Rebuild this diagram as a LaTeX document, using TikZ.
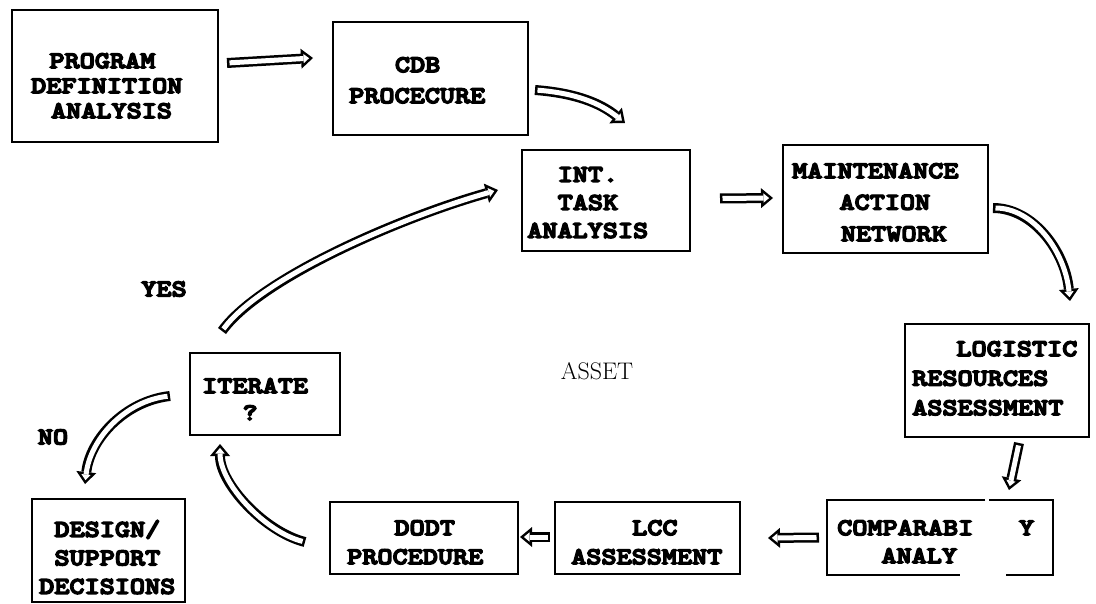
\documentclass[tikz,border=0pt]{standalone}
\usepackage{fontspec}
\usetikzlibrary{arrows.meta}
\newfontfamily\tw{lmmonolt10-bold.otf}[FakeStretch=1.2,FakeBold=6]
\newlength\cw
\setlength\cw{15.25pt}
\newcommand\ind[1]{\hspace*{#1\cw}}
\tikzset{
  box/.style={draw, line width=2.9pt, inner sep=0pt, outer sep=0pt},
  boxline/.style={line width=2.9pt},
  txt/.style={inner sep=0pt, anchor=north west, align=left, font=\tw\fontsize{24}{#1}\selectfont},
  txt/.default=29,
  lbl/.style={inner sep=0pt, font=\tw\fontsize{24}{28}\selectfont},
  hout/.style={draw=black, line width=10pt, -{Triangle[length=12pt,width=20pt,line width=0pt]}},
  hin/.style={draw=white, line width=5pt, shorten >=3.9pt, shorten <=2.5pt, -{Triangle[length=5.6pt,width=9.3pt,line width=0pt,color=white]}}
}
\newcommand\harrow[1]{\draw[hout] #1;\draw[hin] #1;}
\begin{document}
\begin{tikzpicture}[x=1pt,y=-1pt]
\useasboundingbox (0,0) rectangle (1096,604);
% boxes
\node[box, minimum width=206pt, minimum height=132pt] (pda) at (115,76) {};
\node[box, minimum width=195pt, minimum height=113pt] (cdb) at (430.5,78.5) {};
\node[box, minimum width=168pt, minimum height=101pt] (int) at (606,200.5) {};
\node[box, minimum width=205pt, minimum height=108pt] (man) at (885.5,199) {};
\node[box, minimum width=184pt, minimum height=113pt] (lra) at (997,380.5) {};
\node[inner sep=0pt, outer sep=0pt, minimum width=226pt, minimum height=75pt] (comp) at (940,537.5) {};
\draw[boxline] ([xshift=158pt]comp.north west) -- (comp.north west) -- (comp.south west) -- ([xshift=133pt]comp.south west);
\draw[boxline] ([xshift=179pt]comp.south west) -- (comp.south east) -- (comp.north east) -- ([xshift=162pt]comp.north west);
\node[box, minimum width=185pt, minimum height=72pt] (lcc) at (647.5,538) {};
\node[box, minimum width=188pt, minimum height=72pt] (dodt) at (424,538) {};
\node[box, minimum width=150pt, minimum height=82pt] (iter) at (265,394) {};
\node[box, minimum width=153pt, minimum height=103pt] (des) at (108.5,550.5) {};
% texts
\node[txt=25] (tpda) at (31,53) {\ind{1.2}PROGRAM\\DEFINITION\\\ind{1.3}ANALYSIS};
\node[txt=31] (tcdb) at (349,57) {\ind{3}CDB\\PROCECURE};
\node[txt=28] (tint) at (527,167) {\ind{2}INT.\\\ind{2}TASK\\ANALYSIS};
\node[txt=31.5] (tman) at (792,163) {MAINTENANCE\\\ind{3.1}ACTION\\\ind{3.2}NETWORK};
\node[txt=29.5] (tlra) at (912,341) {\ind{2.9}LOGISTIC\\RESOURCES\\ASSESSMENT};
\node[txt=28] (tcomp) at (837,520) {COMPARABI\ind{3}Y\\\ind{2.9}ANALY};
\node[txt=29] (tlcc) at (571,520) {\ind{4}LCC\\ASSESSMENT};
\node[txt=29] (tdodt) at (347,520) {\ind{3.1}DODT\\PROCEDURE};
\node[txt=27] (titer) at (202,378) {ITERATE\\\ind{2.65}?};
\node[txt=28.5] (tdes) at (39,520) {\ind{1}DESIGN/\\\ind{1}SUPPORT\\DECISIONS};
\node[lbl] (yes) at (164,289) {YES};
\node[lbl] (no) at (53,437) {NO};
\node[inner sep=0pt, font=\fontsize{24}{28}\selectfont] (asset) at (597,371) {ASSET};
% arrows
\harrow{([shift={(9,-13)}]pda.east) -- ([shift={(-20,-20.5)}]cdb.west)}
\harrow{([shift={(7,11.5)}]cdb.east) .. controls +(40,3) and +(-25,-20) .. ([shift={(19,-27)}]int.north)}
\harrow{([shift={(30,-2)}]int.east) -- ([shift={(-10,-1)}]man.west)}
\harrow{([shift={(5,9)}]man.east) .. controls +(40,0) and +(-5,-50) .. ([shift={(73,-23)}]lra.north)}
\harrow{([shift={(22,6)}]lra.south) -- ([shift={(69,-10)}]comp.north)}
\harrow{([shift={(-8,0)}]comp.west) -- ([shift={(28,0)}]lcc.east)}
\harrow{([shift={(-5,-1)}]lcc.west) -- ([shift={(2,-1)}]dodt.east)}
\harrow{([shift={(-25,4)}]dodt.west) .. controls +(-40,-10) and +(0,40) .. ([shift={(-45,9)}]iter.south)}
\harrow{([shift={(-20,2)}]iter.west) .. controls +(-45,5) and +(5,-45) .. ([shift={(-23.5,-15)}]des.north)}
\harrow{([shift={(-43,-22)}]iter.north) .. controls +(40,-55) and +(-90,25) .. ([shift={(-24,-10.5)}]int.west)}
\end{tikzpicture}
\end{document}
